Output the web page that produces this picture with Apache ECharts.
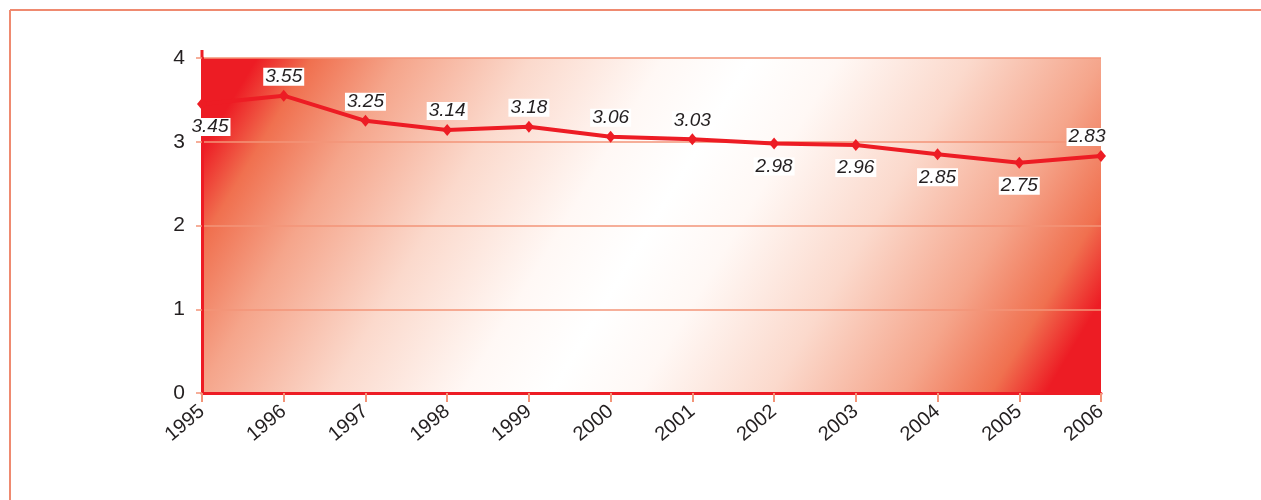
<!doctype html>
<html>
<head>
    <meta charset="utf-8"/>
    <title>1995-2006</title>
    <style>
        html, body { margin: 0; padding: 0; background: #fff; }
        #chart { width: 1261px; height: 500px; }
    </style>
    <script src="https://cdn.jsdelivr.net/npm/echarts@6/dist/echarts.min.js"></script>
</head>
<body>
<div id="chart"></div>
<script>
    // data
    const years = ["1995", "1996", "1997", "1998", "1999", "2000",
        "2001", "2002", "2003", "2004", "2005", "2006"];
    const values = [3.45, 3.55, 3.25, 3.14, 3.18, 3.06, 3.03, 2.98, 2.96, 2.85, 2.75, 2.83];
    const yTicks = [0, 1, 2, 3, 4];

    // which labels sit under their point
    const below = [0, 7, 8, 9, 10];

    const red = "#ed1c24";
    const salmon = "#f39478";
    const ink = "#231f20";

    var chart = echarts.init(document.getElementById("chart"));

    // diagonal red -> white -> red, slanted a bit steeper than 45deg
    const bg = new echarts.graphic.LinearGradient(202, 58, 1011, 543, [
        {offset: 0, color: red},
        {offset: 0.05, color: red},
        {offset: 0.1, color: "#f0704f"},
        {offset: 0.18, color: "#f5a58b"},
        {offset: 0.3, color: "#fbd9cc"},
        {offset: 0.42, color: "#fff8f5"},
        {offset: 0.5, color: "#ffffff"},
        {offset: 0.58, color: "#fff8f5"},
        {offset: 0.7, color: "#fbd9cc"},
        {offset: 0.82, color: "#f5a58b"},
        {offset: 0.9, color: "#f0704f"},
        {offset: 0.95, color: red},
        {offset: 1, color: red}
    ], true);

    const seriesData = values.map(function (v, i) {
        let isBelow = below.indexOf(i) >= 0;
        let item = {value: v, label: {position: isBelow ? "bottom" : "top", distance: isBelow ? 8 : 4}};
        if (i === 0) item.label.offset = [8, 0];
        if (i === values.length - 1) item.label.offset = [-14, 0];
        return item;
    });

    var option = {
        animation: false,
        textStyle: {fontFamily: "Liberation Sans, Arial, sans-serif"},
        grid: {
            left: 202, right: 160, top: 58, bottom: 107,
            show: true, borderWidth: 0, backgroundColor: bg
        },
        graphic: [
            {type: "line", shape: {x1: 10, y1: 10, x2: 1261, y2: 10},
                style: {stroke: "#ef8a70", lineWidth: 2}},
            {type: "line", shape: {x1: 10, y1: 10, x2: 10, y2: 500},
                style: {stroke: "#ef8a70", lineWidth: 2}},
            {type: "line", shape: {x1: 202, y1: 50, x2: 202, y2: 58},
                style: {stroke: red, lineWidth: 3}}
        ],
        xAxis: {
            type: "category",
            data: years,
            boundaryGap: false,
            axisLine: {lineStyle: {color: red, width: 3}},
            axisTick: {show: true, length: 9, lineStyle: {color: salmon, width: 2}},
            axisLabel: {rotate: 40, fontSize: 20, color: ink, margin: 16}
        },
        yAxis: {
            type: "value",
            min: yTicks[0],
            max: yTicks[yTicks.length - 1],
            interval: 1,
            axisLine: {show: true, lineStyle: {color: red, width: 3}},
            axisTick: {show: true, length: 6, lineStyle: {color: salmon, width: 1.5}},
            axisLabel: {fontSize: 21, color: ink, margin: 17},
            splitLine: {lineStyle: {color: salmon, width: 1.5}}
        },
        series: [{
            type: "line",
            data: seriesData,
            symbol: "diamond",
            symbolSize: [10, 12],
            itemStyle: {color: red},
            lineStyle: {color: red, width: 4},
            label: {
                show: true,
                fontSize: 19,
                lineHeight: 18,
                fontStyle: "italic",
                color: ink,
                backgroundColor: "#ffffff",
                padding: [0, 2, 0, 2]
            }
        }]
    };
    chart.setOption(option);
</script>
</body>
</html>
